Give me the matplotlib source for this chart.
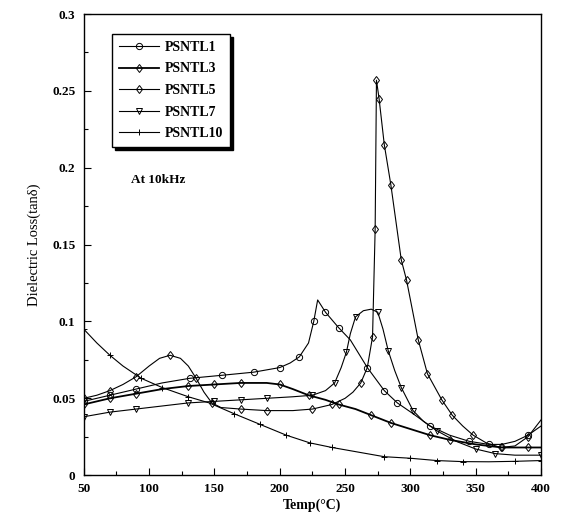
import matplotlib.pyplot as plt
from matplotlib.ticker import MultipleLocator
import numpy as np

plt.rcParams['font.family'] = ['Liberation Serif', 'DejaVu Serif']
plt.rcParams['font.weight'] = 'bold'

# PSNTL1 - circle, peak near 229 C
t1 = [50, 70, 90, 110, 131, 156, 180, 200, 208, 215, 222, 226, 229, 235, 245, 254, 267, 280, 290, 302, 315, 330, 345, 360, 370, 380, 390, 400]
v1 = [0.048, 0.052, 0.056, 0.060, 0.063, 0.065, 0.067, 0.070, 0.073, 0.077, 0.086, 0.100, 0.114, 0.106, 0.096, 0.088, 0.070, 0.055, 0.047, 0.040, 0.032, 0.026, 0.022, 0.020, 0.020, 0.022, 0.026, 0.032]

# PSNTL3 - plateau around 0.06
t3 = [50, 70, 90, 110, 130, 150, 170, 190, 200, 210, 222, 235, 245, 258, 270, 285, 300, 315, 330, 350, 370, 390, 400]
v3 = [0.046, 0.050, 0.053, 0.056, 0.058, 0.059, 0.060, 0.060, 0.059, 0.056, 0.052, 0.049, 0.046, 0.043, 0.039, 0.034, 0.030, 0.026, 0.023, 0.020, 0.018, 0.018, 0.018]

# PSNTL5 - bell at 115 C and sharp peak at 274 C
t5 = [50, 60, 70, 80, 90, 100, 108, 116, 124, 130, 136, 142, 148, 155, 170, 190, 210, 225, 240, 250, 256, 262, 267, 271, 273, 274, 276, 280, 285, 293, 297, 306, 313, 324, 332, 340, 348, 358, 369, 380, 390, 400]
v5 = [0.050, 0.052, 0.055, 0.059, 0.064, 0.071, 0.076, 0.078, 0.076, 0.071, 0.063, 0.054, 0.047, 0.044, 0.043, 0.042, 0.042, 0.043, 0.046, 0.050, 0.054, 0.060, 0.070, 0.090, 0.160, 0.257, 0.245, 0.215, 0.189, 0.140, 0.127, 0.088, 0.066, 0.049, 0.039, 0.032, 0.026, 0.021, 0.018, 0.019, 0.025, 0.036]

# PSNTL7 - triangle, hump near 262 C
t7 = [50, 70, 90, 110, 130, 150, 170, 190, 210, 225, 235, 242, 247, 251, 254, 258, 264, 270, 275, 279, 283, 288, 293, 302, 310, 320, 335, 350, 365, 380, 400]
v7 = [0.038, 0.041, 0.043, 0.045, 0.047, 0.048, 0.049, 0.050, 0.051, 0.052, 0.055, 0.060, 0.070, 0.080, 0.092, 0.103, 0.107, 0.108, 0.106, 0.095, 0.081, 0.068, 0.057, 0.042, 0.035, 0.029, 0.022, 0.017, 0.014, 0.013, 0.013]

# PSNTL10 - plus, monotonic decrease
t10 = [50, 60, 70, 80, 94, 110, 130, 146, 165, 185, 205, 223, 240, 260, 280, 300, 320, 340, 360, 380, 400]
v10 = [0.095, 0.086, 0.078, 0.071, 0.063, 0.057, 0.051, 0.047, 0.040, 0.033, 0.026, 0.021, 0.018, 0.015, 0.012, 0.011, 0.0095, 0.0088, 0.0087, 0.009, 0.0095]

series = [
    ('PSNTL1', t1, v1, 'o', 0.8),
    ('PSNTL3', t3, v3, 'd', 1.3),
    ('PSNTL5', t5, v5, 'd', 0.8),
    ('PSNTL7', t7, v7, 'v', 0.8),
    ('PSNTL10', t10, v10, '+', 0.8),
]

fig = plt.figure(figsize=(5.66, 5.21), dpi=100)
ax = fig.add_axes([0.148, 0.088, 0.808, 0.885])

for name, t, v, m, lw in series:
    ax.plot(t, v, color='black', lw=lw, marker=m, markersize=4.5,
            markerfacecolor='none', markeredgewidth=0.7, markevery=0.05,
            label=name)

ax.set_xlim(50, 400)
ax.set_ylim(0, 0.3)
ax.xaxis.set_major_locator(MultipleLocator(50))
ax.xaxis.set_minor_locator(MultipleLocator(25))
ax.yaxis.set_minor_locator(MultipleLocator(0.025))
ax.set_yticks([0, 0.05, 0.1, 0.15, 0.2, 0.25, 0.3])
ax.set_yticklabels(['0', '0.05', '0.1', '0.15', '0.2', '0.25', '0.3'])
ax.tick_params(which='major', direction='in', length=5, width=0.8, labelsize=9.5, pad=6)
ax.tick_params(which='minor', direction='in', length=3, width=0.8)
for s in ax.spines.values():
    s.set_linewidth(1.0)

ax.set_xlabel('Temp(°C)', fontsize=10, fontweight='bold', labelpad=2)
ax.set_ylabel('Dielectric Loss(tanδ)', fontsize=10.5, fontweight='normal', labelpad=8)

ax.text(86, 0.192, 'At 10kHz', fontsize=9.5, fontweight='bold', va='center')

leg = ax.legend(loc='upper left', bbox_to_anchor=(0.046, 0.972), fontsize=10,
                frameon=True, fancybox=False, edgecolor='black', handlelength=2.9,
                handletextpad=0.4, labelspacing=0.62, borderpad=0.5, numpoints=1,
                shadow={'color': 'black', 'alpha': 1})
leg.get_frame().set_linewidth(1.0)

fig.savefig('out.png', dpi=100)
